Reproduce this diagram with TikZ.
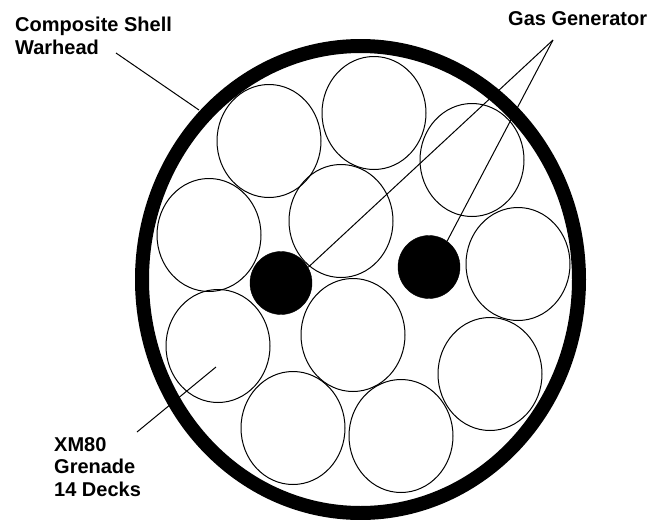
\documentclass[tikz,border=0pt]{standalone}
\usepackage{fontspec}
\setmainfont{Liberation Sans}
\usetikzlibrary{shapes.geometric}
\begin{document}
\begin{tikzpicture}[x=1pt,y=-1pt,
    every node/.style={font=\fontsize{20}{22.5}\selectfont\bfseries,align=left,inner sep=0pt},
    shell/.style={draw,ellipse,line width=14pt,minimum width=437pt,minimum height=467pt},
    deck/.style={draw,ellipse,line width=1pt,minimum width=104pt,minimum height=113pt},
    gasgen/.style={draw,ellipse,fill=black,minimum width=62pt,minimum height=63pt},
    lead/.style={draw,line width=1pt}]
  \useasboundingbox (0,0) rectangle (649,520);
  \node[shell] (warhead) at (360.5,279.5) {};
  % grenades
  \foreach \name/\xx/\yy in {d1/269/141,d2/374/113,d3/472/160,d4/209/235,d5/341/221,d6/518/264,
      d7/218/346,d8/353/335,d9/490/374,d10/293/428,d11/401/436}
    \node[deck] (\name) at (\xx,\yy) {};
  \node[gasgen] (gasa) at (281,283) {};
  \node[gasgen] (gasb) at (429,267) {};
  % labels
  \node[anchor=west] (shelllabel) at (15,36) {Composite Shell\\Warhead};
  \node[anchor=west] (gaslabel) at (508,19) {Gas Generator};
  \node[anchor=west] (xmlabel) at (54,467) {XM80\\Grenade\\14 Decks};
  % leaders
  \coordinate (shelltail) at (116,53);
  \coordinate (gastop) at (553,40);
  \coordinate (xmtail) at (137,432);
  \coordinate (xmhead) at (216,367);
  \draw[lead] (shelltail) -- (199,110);
  \draw[lead] (gastop) -- (gasa.30);
  \draw[lead] (gastop) -- (gasb.55);
  \draw[lead] (xmtail) -- (xmhead);
\end{tikzpicture}
\end{document}
